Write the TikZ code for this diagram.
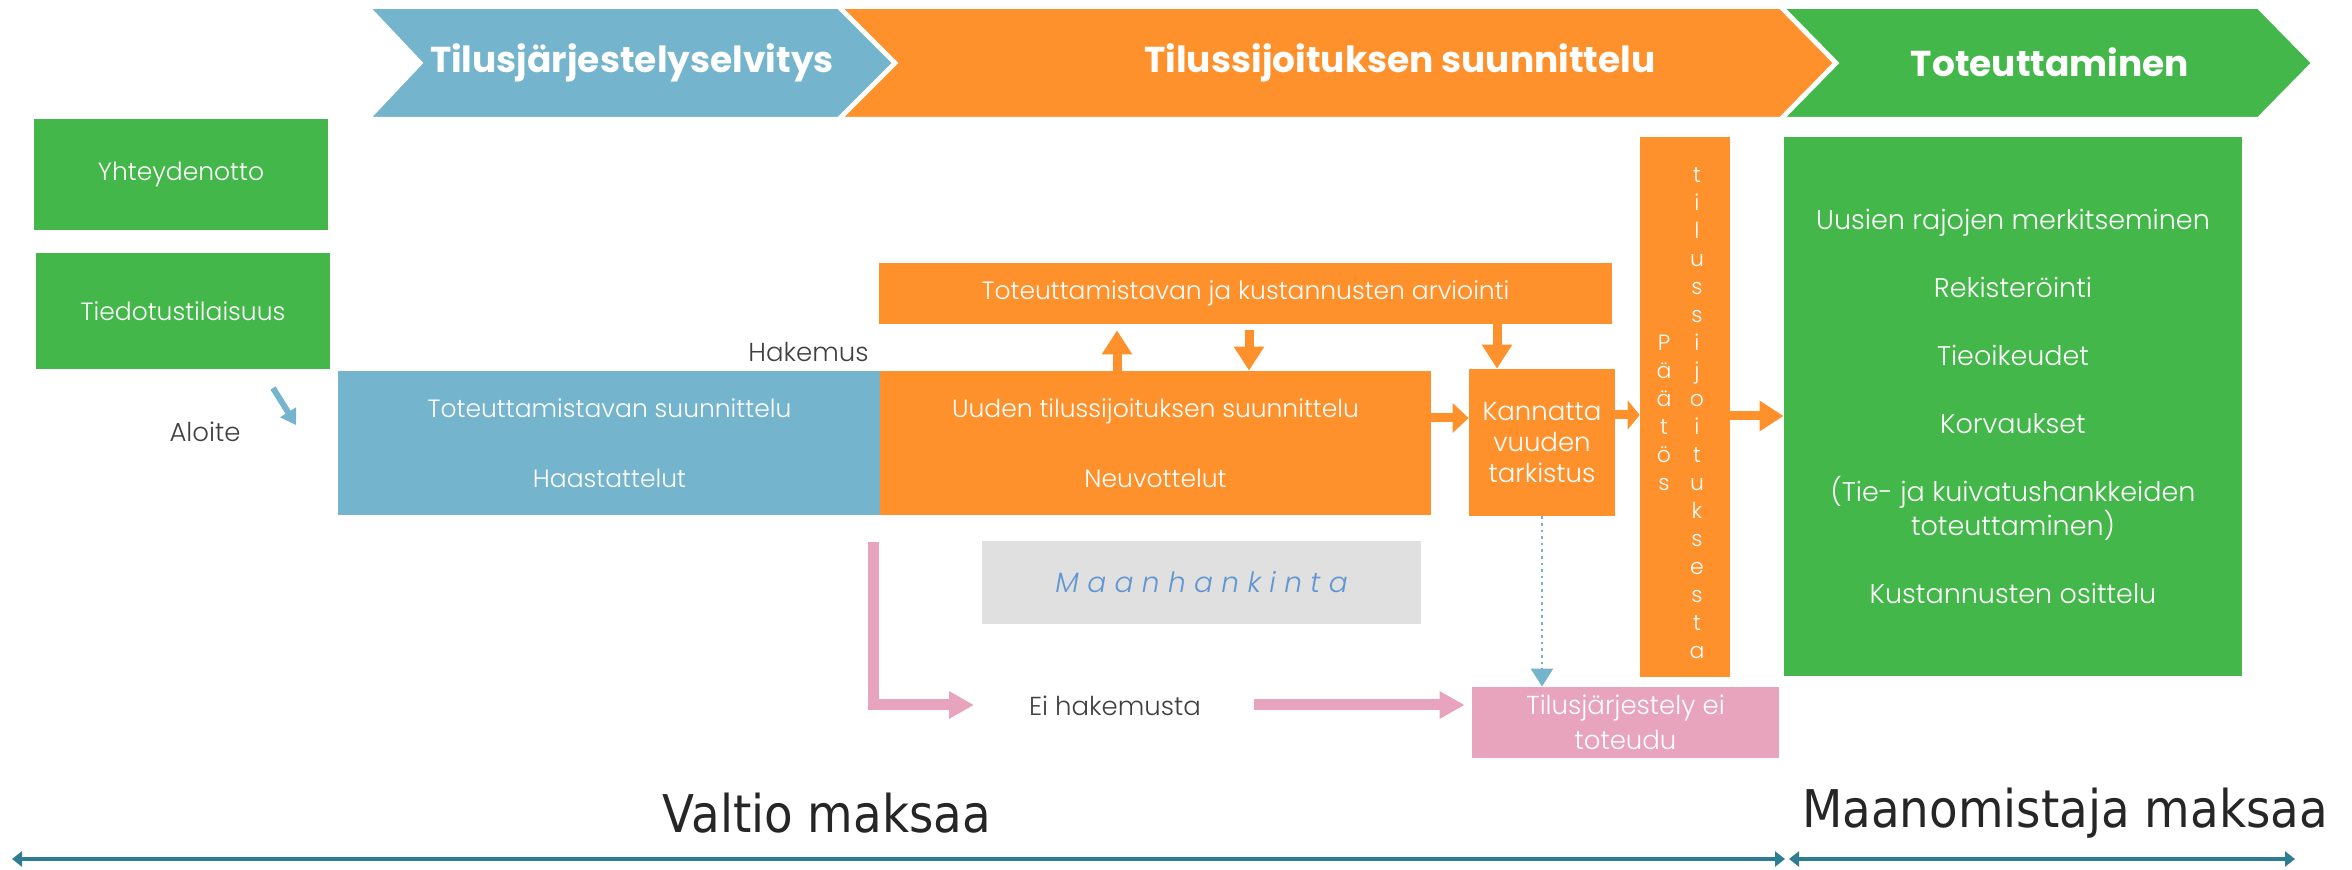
\documentclass[tikz,border=0pt]{standalone}
\usepackage{fontspec}
\setmainfont{Poppins}
\newfontfamily\thinfont{Poppins Light}
\newfontfamily\payfont[FakeStretch=0.9]{DejaVu Sans}
\newfontfamily\landfont[LetterSpace=30]{Poppins Light}
\usetikzlibrary{arrows.meta}

\definecolor{tsblue}{RGB}{116,180,204}
\definecolor{tsorange}{RGB}{255,145,45}
\definecolor{tsgreen}{RGB}{67,183,73}
\definecolor{tspink}{RGB}{232,164,188}
\definecolor{tsgray}{RGB}{224,224,224}
\definecolor{tslink}{RGB}{96,150,210}
\definecolor{tsteal}{RGB}{46,125,145}
\definecolor{tstext}{RGB}{64,64,64}

\begin{document}
\begin{tikzpicture}[x=0.5pt,y=-0.5pt,
  every node/.style={inner sep=0pt},
  box/.style={fill=#1,text=white,align=center,font=\thinfont\fontsize{12.5}{16}\selectfont},
  letters/.style={text=white,align=center,font=\thinfont\fontsize{11}{14}\selectfont},
  note/.style={text=tstext,font=\thinfont\fontsize{13}{16}\selectfont},
  phase/.style={text=white,font=\bfseries\fontsize{18}{22}\selectfont},
  pay/.style={text=black!85,font=\payfont\fontsize{26}{30}\selectfont},
  flow/.style={tsorange,line width=4.5pt,-{Triangle[width=14.5pt,length=#1]}},
  flow/.default=12pt,
  pinkflow/.style={tspink,line width=5.5pt,-{Triangle[width=13pt,length=12.5pt]}},
  dotflow/.style={tsblue,line width=1.3pt,dotted,-{Triangle[width=11pt,length=9pt]}},
  aloflow/.style={tsblue,line width=3pt,-{Triangle[width=9pt,length=7.5pt]}},
  payline/.style={tsteal,line width=2pt,{Triangle[width=7.5pt,length=5pt]}-{Triangle[width=7.5pt,length=5pt]}}]

\useasboundingbox (0,0) rectangle (2352,870);

\draw [fill=tsblue,draw=white,line width=1pt] (370,8) -- (838,8) -- (893,63) -- (838,118) -- (370,118) -- (422,63) -- cycle;

\draw [fill=tsorange,draw=white,line width=1pt] (842,8) -- (1780,8) -- (1834,63) -- (1780,118) -- (842,118) -- (897,63) -- cycle;

\draw [fill=tsgreen,draw=white,line width=1pt] (1784,8) -- (2258,8) -- (2312,63) -- (2258,118) -- (1784,118) -- (1838,63) -- cycle;

\node [phase] (selv) at (632,63) {Tilusjärjestelyselvitys};
\node [phase] (suunn) at (1400,63) {Tilussijoituksen suunnittelu};
\node [phase] (toteu) at (2050,62) {Toteuttaminen};

\node [box=tsgreen,minimum width=147pt,minimum height=55.5pt] (yht) at (181,174.5) {Yhteydenotto};
\node [box=tsgreen,minimum width=147pt,minimum height=58pt] (tied) at (183,311) {Tiedotustilaisuus};

\node [box=tsblue,minimum width=271.5pt,minimum height=72pt] (suun) at (609.5,443) {Toteuttamistavan suunnittelu\\[19pt]Haastattelut};
\node [box=tsorange,minimum width=275.5pt,minimum height=72pt] (uusi) at (1155.5,443) {Uuden tilussijoituksen suunnittelu\\[19pt]Neuvottelut};
\node [box=tsorange,minimum width=366.5pt,minimum height=30.5pt] (arvi) at (1245.5,293.5) {Toteuttamistavan ja kustannusten arviointi};
\node [box=tsorange,minimum width=73pt,minimum height=73.5pt,font=\thinfont\fontsize{13}{15.5}\selectfont] (kann) at (1542,442.5) {Kannatta\\vuuden\\tarkistus};

\node [box=tsorange,minimum width=45pt,minimum height=270pt] (paat) at (1685,407) {};
\node [letters] (paatl) at (1664,413) {P\\ä\\ä\\t\\ö\\s};
\node [letters] (tilul) at (1697,413) {t\\i\\l\\u\\s\\s\\i\\j\\o\\i\\t\\u\\k\\s\\e\\s\\t\\a};

\node [box=tsgreen,minimum width=229pt,minimum height=269.5pt,font=\thinfont\fontsize{13.5}{17}\selectfont] (tote) at (2013,406.5) {Uusien rajojen merkitseminen\\[17pt]Rekisteröinti\\[17pt]Tieoikeudet\\[17pt]Korvaukset\\[17pt](Tie- ja kuivatushankkeiden\\toteuttaminen)\\[17pt]Kustannusten osittelu};

\node [fill=tsgray,minimum width=219.5pt,minimum height=41.5pt,text=tslink,font=\landfont\itshape\fontsize{14}{17}\selectfont] (maan) at (1201.5,582.5) {Maanhankinta};
\node [box=tspink,minimum width=153.5pt,minimum height=35.5pt,font=\thinfont\fontsize{13}{17.5}\selectfont] (eitot) at (1625.5,722.5) {Tilusjärjestely ei\\toteudu};

\node [note,anchor=east] (hak) at (869,352) {Hakemus};
\node [note] (aloi) at (205,432) {Aloite};
\node [note] (eihak) at (1115,706) {Ei hakemusta};

\node [pay] (valt) at (827,813) {Valtio maksaa};
\node [pay] (omis) at (2065,813) {Maanomistaja maksaa};

\coordinate (a1) at (1117,0);
\coordinate (a2) at (1249,0);
\coordinate (a3) at (1497,0);
\coordinate (r1) at (0,418);
\coordinate (r2) at (0,415);
\coordinate (r3) at (0,416);

\draw [flow,shorten >=3pt] (a1 |- uusi.north) -- (a1 |- arvi.south);
\draw [flow,shorten <=3pt] (a2 |- arvi.south) -- (a2 |- uusi.north);
\draw [flow] (a3 |- arvi.south) -- (a3 |- kann.north);
\draw [flow=8pt] (uusi.east |- r1) -- (kann.west |- r1);
\draw [flow=6pt] (kann.east |- r2) -- (paat.west |- r2);
\draw [flow] (paat.east |- r3) -- (tote.west |- r3);

\coordinate (nh) at (873,542);
\coordinate (nht) at (974,705);
\coordinate (eh) at (1254,705);
\draw [pinkflow] (nh) |- (nht);
\draw [pinkflow,shorten >=3.5pt] (eh) -- (eitot.west |- eh);

\draw [dotflow] (kann.south) -- (kann.south |- eitot.north);

\coordinate (al1) at (273,388);
\coordinate (al2) at (296,425);
\draw [aloflow] (al1) -- (al2);

\coordinate (s1) at (12,859);
\coordinate (s2) at (1785,859);
\coordinate (s3) at (1789,859);
\coordinate (s4) at (2295,859);
\draw [payline] (s1) -- (s2);
\draw [payline] (s3) -- (s4);

\end{tikzpicture}
\end{document}
